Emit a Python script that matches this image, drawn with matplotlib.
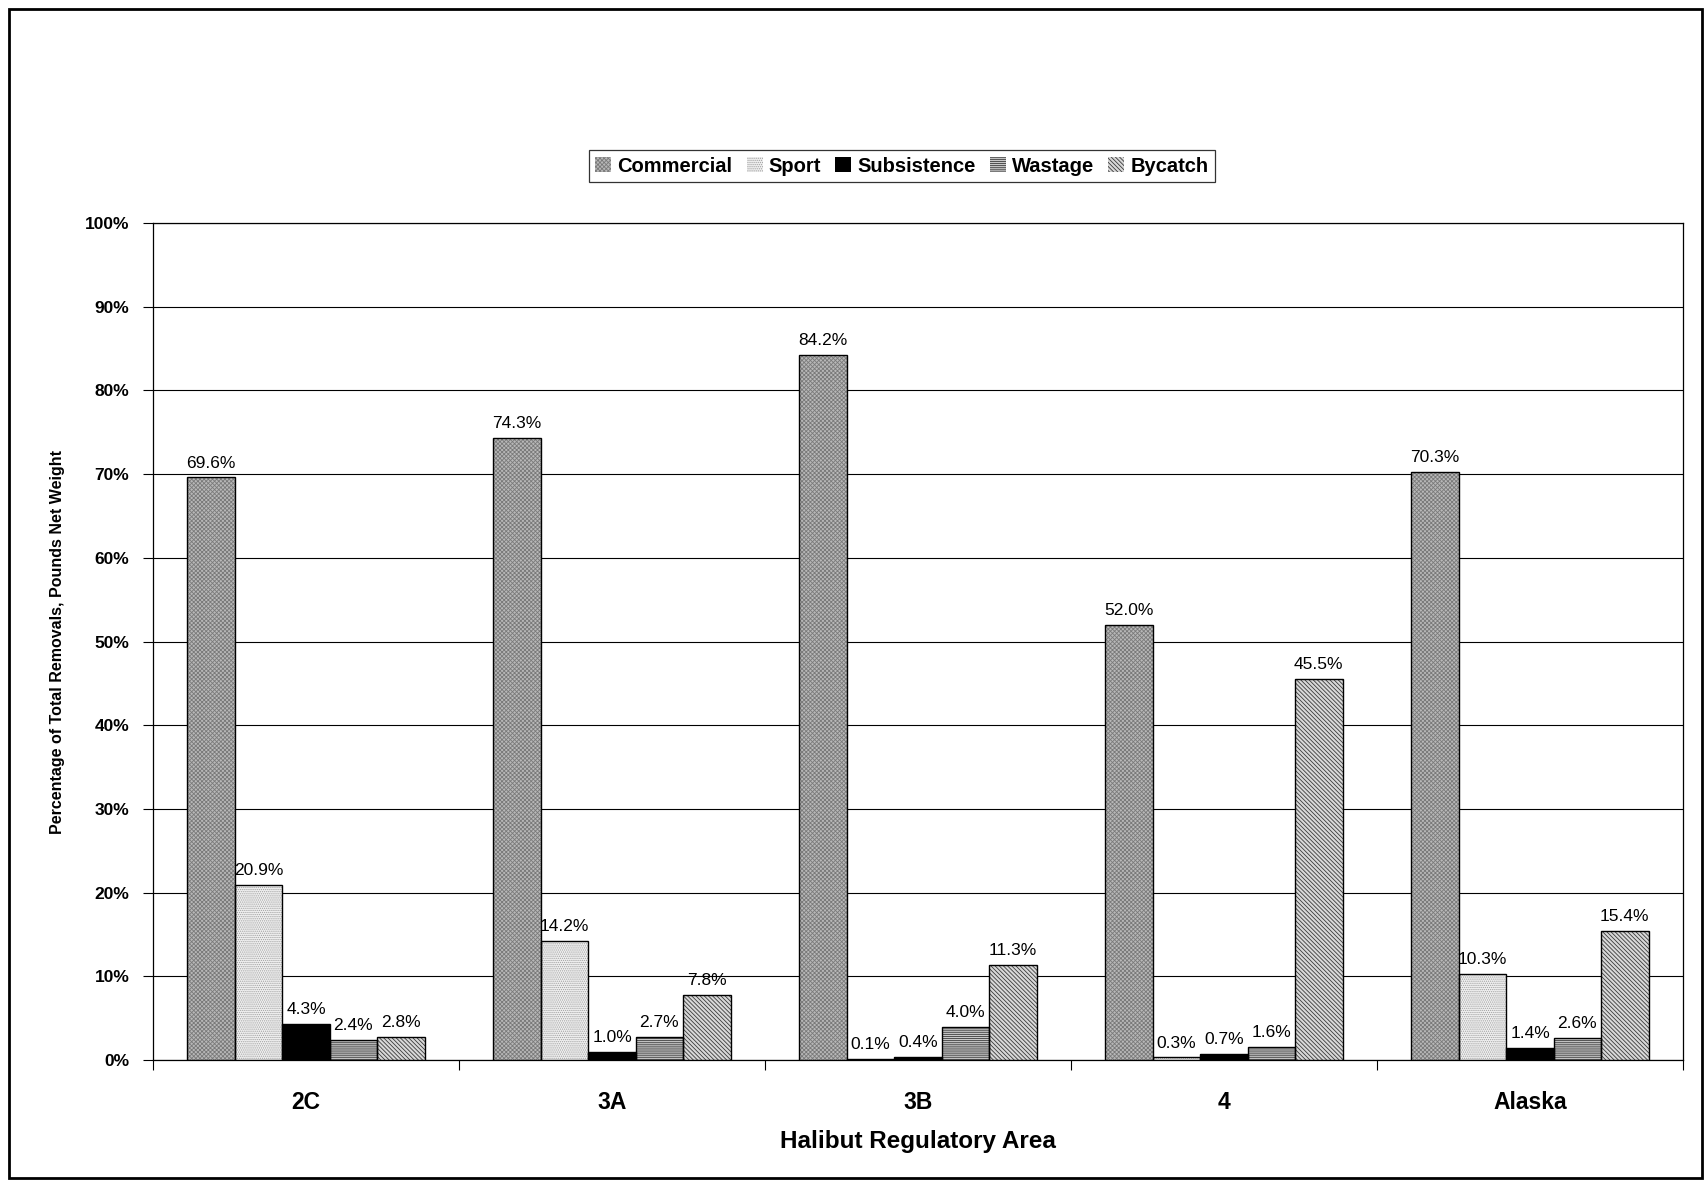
import numpy as np
import matplotlib
matplotlib.use("Agg")
from matplotlib import pyplot as plt
from matplotlib.patches import Rectangle, Patch

plt.rcParams['font.family'] = ['Liberation Sans', 'DejaVu Sans']
plt.rcParams['hatch.linewidth'] = 0.6

areas = ['2C', '3A', '3B', '4', 'Alaska']
series = ['Commercial', 'Sport', 'Subsistence', 'Wastage', 'Bycatch']
commercial = [69.6, 74.3, 84.2, 52.0, 70.3]
sport = [20.9, 14.2, 0.1, 0.3, 10.3]
subsistence = [4.3, 1.0, 0.4, 0.7, 1.4]
wastage = [2.4, 2.7, 4.0, 1.6, 2.6]
bycatch = [2.8, 7.8, 11.3, 45.5, 15.4]
values = [commercial, sport, subsistence, wastage, bycatch]

# face colour, hatch, hatch colour
styles = [
    ('#b8b8b8', 'xxxxxxxx', '#7a7a7a'),
    ('#f0f0f0', '........', '#a0a0a0'),
    ('#000000', None, '#000000'),
    ('#c8c8c8', '--------', '#3a3a3a'),
    ('#d8d8d8', '\\\\\\\\\\\\\\\\', '#3a3a3a'),
]

fig = plt.figure(figsize=(17.05, 11.8), dpi=100)
ax = fig.add_axes([153 / 1705, 120 / 1180, 1530 / 1705, 837 / 1180])

x = np.arange(len(areas))
width = 0.155
handles = []
for i, (name, vals, (fc, hatch, hc)) in enumerate(zip(series, values, styles)):
    pos = x - 2 * width + i * width
    ax.bar(pos, vals, width, color=fc, hatch=hatch, edgecolor=hc, linewidth=0, zorder=3)
    bars = ax.bar(pos, vals, width, fill=False, edgecolor='black', linewidth=1.0, zorder=4)
    ax.bar_label(bars, labels=[f'{v:.1f}%' for v in vals], padding=5, fontsize=12.5, zorder=5)
    handles.append(Patch(facecolor=fc, hatch=hatch, edgecolor=hc, linewidth=0))

ax.set_ylim(0, 100)
ax.set_xlim(-0.5, len(areas) - 0.5)
ax.set_yticks(np.arange(0, 101, 10))
ax.set_yticklabels([f'{t}%' for t in range(0, 101, 10)], fontsize=12.5, fontweight='bold')
ax.yaxis.grid(True, color='black', linewidth=0.8, zorder=0)
ax.set_axisbelow(True)

ax.set_xticks(x)
ax.set_xticklabels(areas, fontsize=16.5, fontweight='bold')
ax.tick_params(axis='x', length=0, pad=22)
ax.set_xticks(np.arange(-0.5, len(areas)), minor=True)
ax.tick_params(axis='x', which='minor', length=7, width=0.8, direction='out')
ax.tick_params(axis='y', length=7, width=0.8, direction='out', pad=10)

for s in ax.spines.values():
    s.set_linewidth(0.9)

ax.set_xlabel('Halibut Regulatory Area', fontsize=17.5, fontweight='bold', labelpad=12)
ax.set_ylabel('Percentage of Total Removals, Pounds Net Weight', fontsize=11.5, fontweight='bold', labelpad=14)

leg = fig.legend(handles, series, loc='center', bbox_to_anchor=(902 / 1705, 1 - 166 / 1180),
                 ncol=5, fancybox=False, edgecolor='black', handlelength=0.8, handleheight=0.8,
                 handletextpad=0.3, columnspacing=0.7, borderpad=0.3,
                 prop={'weight': 'bold', 'size': 14.5})
leg.get_frame().set_linewidth(0.9)

fig.patches.append(Rectangle((9 / 1705, 2 / 1180), 1693 / 1705, 1169 / 1180, transform=fig.transFigure,
                             fill=False, edgecolor='black', linewidth=2))

fig.savefig('out.png', dpi=100, facecolor='white')
